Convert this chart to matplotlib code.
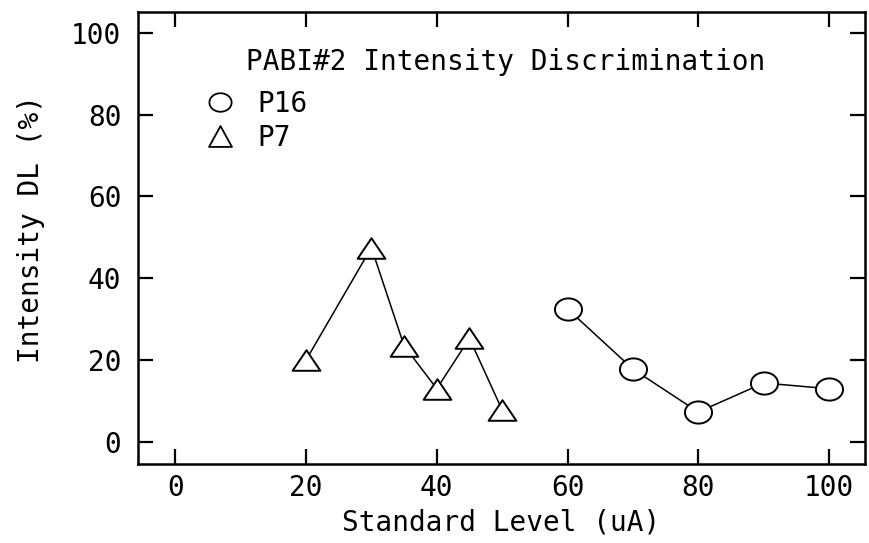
import matplotlib
matplotlib.use('Agg')
import matplotlib.pyplot as plt
from matplotlib.path import Path
from matplotlib.lines import Line2D
import numpy as np

# P7 and P16 intensity difference limens
p7_level = [20, 30, 35, 40, 45, 50]
p7_dl = [20.0, 47.5, 23.5, 13.0, 25.3, 7.8]
p16_level = [60, 70, 80, 90, 100]
p16_dl = [32.5, 17.8, 7.3, 14.4, 13.0]

xticks = [0, 20, 40, 60, 80, 100]
yticks = [0, 20, 40, 60, 80, 100]


def ellipse(aspect):
    t = np.linspace(0, 2 * np.pi, 60)
    return Path(np.column_stack([aspect * np.cos(t), np.sin(t)]), closed=True)


def triangle(aspect):
    return Path([(0, 1), (-aspect, -1), (aspect, -1), (0, 1)], closed=True)


plt.rcParams['font.family'] = 'DejaVu Sans Mono'
fs = 20

fig = plt.figure(figsize=(8.69, 5.43), dpi=100)
ax = fig.add_axes([0.1588, 0.1455, 0.8366, 0.8325])

ax.plot(p7_level, p7_dl, color='black', lw=1.1, marker=triangle(1.35), ms=20,
        mfc='white', mec='black', mew=1.4)
ax.plot(p16_level, p16_dl, color='black', lw=1.1, marker=ellipse(1.22), ms=19.5,
        mfc='white', mec='black', mew=1.4)

ax.set_xlim(-5.7, 105.5)
ax.set_ylim(-5.4, 105.1)
ax.set_xticks(xticks)
ax.set_yticks(yticks)
ax.tick_params(direction='in', length=11, width=1.6, labelsize=fs,
               top=True, right=True)
ax.tick_params(axis='x', pad=7)
ax.tick_params(axis='y', pad=12)
for s in ax.spines.values():
    s.set_linewidth(1.8)

ax.set_xlabel('Standard Level (uA)', fontsize=fs, labelpad=5)
ax.set_ylabel('Intensity DL (%)', fontsize=fs)
ax.yaxis.set_label_coords(-0.128, 0.52)

ax.text(0.506, 0.889, 'PABI#2 Intensity Discrimination', transform=ax.transAxes,
        ha='center', va='center', fontsize=fs)

handles = [
    Line2D([], [], ls='none', marker=ellipse(1.2), ms=16, mfc='white', mec='black', mew=1.3),
    Line2D([], [], ls='none', marker=triangle(1.1), ms=16.5, mfc='white', mec='black', mew=1.3),
]
ax.legend(handles, ['P16', 'P7'], loc='upper left', bbox_to_anchor=(0.0935, 0.827),
          frameon=False, fontsize=fs, handlelength=1.0, handletextpad=0.85,
          labelspacing=0.2, borderpad=0, borderaxespad=0)

fig.savefig('out.png', dpi=100)
